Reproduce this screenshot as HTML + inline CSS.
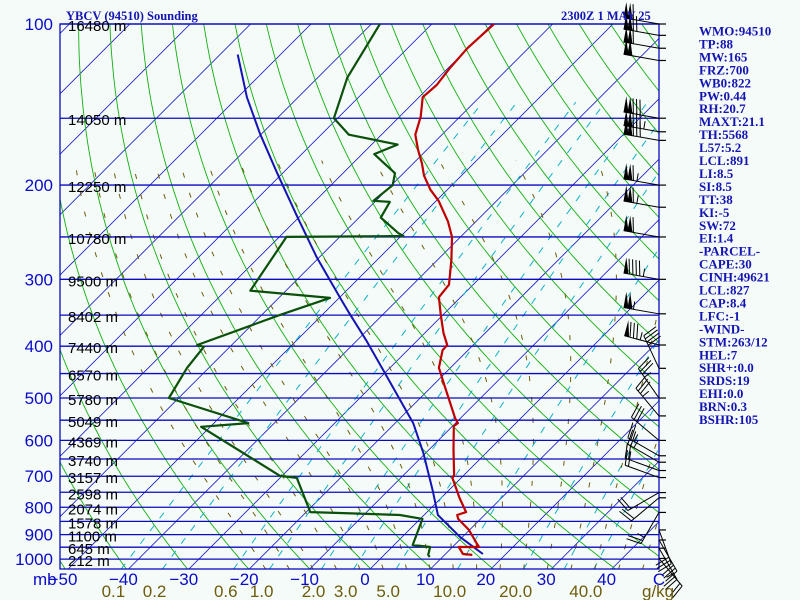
<!DOCTYPE html>
<html><head><meta charset="utf-8"><style>
html,body{margin:0;padding:0;background:#f5fbf8;}
svg{display:block;}
.pl{font-family:"Liberation Sans",sans-serif;font-size:17px;fill:#0a0ac8;}
.ml{font-family:"Liberation Sans",sans-serif;font-size:17px;fill:#6e5c0c;}
.hl{font-family:"Liberation Sans",sans-serif;font-size:15px;fill:#000;}
.tt{font-family:"Liberation Serif",serif;font-weight:bold;font-size:12.5px;fill:#1414b4;}
.st{font-family:"Liberation Serif",serif;font-weight:bold;font-size:13px;fill:#1414b4;}
</style></head><body>
<svg id="chart" width="800" height="600" viewBox="0 0 800 600" xmlns="http://www.w3.org/2000/svg">
<defs><clipPath id="plotclip"><rect x="60" y="24" width="599" height="545"/></clipPath></defs>
<rect x="0" y="0" width="800" height="600" fill="#f5fbf8"/>
<g id="bg" clip-path="url(#plotclip)"></g>
<g id="iso"></g>
<g id="prof" clip-path="url(#plotclip)"></g>
<g id="wind"></g>
<g id="labels"></g>
<text x="66" y="20" class="tt">YBCV (94510) Sounding</text>
<text x="561" y="20" class="tt">2300Z  1 MAY 25</text>
<g id="stats"></g>
</svg>
<script>
const NS="http://www.w3.org/2000/svg";
// ---- data ----
const tempP=[100,111,121,130,137,149,161,172,182,192,204,214,234,250,276,307,324,350,378,398,407,439,477,545,557,564,625,696,705,769,817,827,841,882,937,949,949,978,982];
const tempT=[-69.7,-70.1,-69.7,-69.1,-69.4,-66.5,-64.4,-61.4,-58.6,-56.2,-52.8,-49.6,-44.6,-41.4,-37.7,-34.0,-33.6,-30.3,-26.9,-24.3,-24.2,-21.9,-17.7,-10.9,-9.6,-9.8,-5.9,-1.65,-1.45,3.1,6.5,5.5,6.3,9.9,13.6,14.4,11.05,12.9,14.6];
const dewP=[100,126,150,161,168,175,190,200,214,215,230,246,249,250,315,325,350,398,401,439,500,557,566,699,705,817,820,827,841,941,949,982,991];
const dewT=[-88.6,-85.1,-80.6,-75.4,-65.7,-68.0,-61.4,-59.8,-60.4,-57.5,-56.4,-50.9,-49.6,-68.8,-65.9,-51.5,-57.0,-65.7,-64.3,-63.6,-61.6,-44.3,-51.5,-30.3,-27.2,-19.3,-14.3,-4.0,0.4,3.1,6.3,7.3,7.9];
const parcelP=[114,137,160,190,229,273,324,342,390,443,500,557,633,743,827,909,978];
const parcelT=[-107.1,-98.5,-90.4,-80.9,-70.4,-60.4,-50.0,-46.7,-38.5,-30.8,-23.5,-17.0,-10.4,-2.7,2.3,9.6,16.2];
const pressTicks=[100,200,300,400,500,600,700,800,900,1000];
const heightP=[100,150,200,250,300,350,400,450,500,550,600,650,700,750,800,850,900,950,1000];
const heightLbl=["16480 m","14050 m","12250 m","10780 m","9500 m","8402 m","7440 m","6570 m","5780 m","5049 m","4369 m","3740 m","3157 m","2598 m","2074 m","1578 m","1100 m","645 m","212 m"];
const tempTicks=[-50,-40,-30,-20,-10,0,10,20,30,40];
const mixLines=[0.1,0.2,0.6,1.0,2.0,3.0,5.0,10.0,20.0,30.0,40.0];
const mixTicks=[0.1,0.2,0.6,1.0,2.0,3.0,5.0,10.0,20.0,40.0];
const mixLbl=["0.1","0.2","0.6","1.0","2.0","3.0","5.0","10.0","20.0","40.0"];
const windP=[100,105,111,117,150,159,165,200,220,250,300,348,398,440,500,540,600,641,659,683,704,751,768,818,882,921,954,997];
const windDir=[280,280,280,280,280,280,280,280,280,280,280,280,285,335,325,320,310,300,300,290,290,240,230,210,160,150,150,140];
const windSpd=[110,120,110,100,130,135,130,115,115,110,95,105,85,40,35,35,30,25,25,20,20,20,20,25,30,30,25,20];
const stats=["WMO:94510","TP:88","MW:165","FRZ:700","WB0:822","PW:0.44","RH:20.7","MAXT:21.1","TH:5568","L57:5.2","LCL:891","LI:8.5","SI:8.5","TT:38","KI:-5","SW:72","EI:1.4","-PARCEL-","CAPE:30","CINH:49621","LCL:827","CAP:8.4","LFC:-1","-WIND-","STM:263/12","HEL:7","SHR+:0.0","SRDS:19","EHI:0.0","BRN:0.3","BSHR:105"];
// ---- axes ----
const X0=60,X1=659,Y0=24,Y1=569;
function yOf(p){return 24+232.4*Math.log(p/100);}
function xOf(T,p){return 370+6.04*T+(569-yOf(p));}
const pOfY=y=>100*Math.exp((y-24)/232.4);
function mk(tag,attrs,parent){const e=document.createElementNS(NS,tag);for(const k in attrs)e.setAttribute(k,attrs[k]);parent.appendChild(e);return e;}
const bg=document.getElementById('bg'),iso=document.getElementById('iso'),prof=document.getElementById('prof'),lab=document.getElementById('labels'),wind=document.getElementById('wind'),st=document.getElementById('stats');
function pathFrom(pts){return pts.map((q,i)=>(i?'L':'M')+q[0].toFixed(1)+' '+q[1].toFixed(1)).join(' ');}
const pLevels=[];for(let p=1045;p>=100;p-=5)pLevels.push(p);
for(let T=-160;T<=50;T+=10){
  const l=mk('line',{x1:xOf(T,1043),y1:Y1,x2:xOf(T,100),y2:Y0,stroke:'#1010c8','stroke-width':0.8},bg);
  
}
for(let th=200;th<=520;th+=10){
  const pts=pLevels.map(p=>[xOf(th*Math.pow(p/1000,0.2857)-273.15,p),yOf(p)]);
  const e=mk('path',{d:pathFrom(pts),fill:'none',stroke:'#10b010','stroke-width':0.9},bg);
  
}
function tdOf(w,p){const e=w*p/(622+w);const a=Math.log(e/6.112);return 243.5*a/(17.67-a);}
for(const w of mixLines){
  const pts=pLevels.filter(p=>p>=140).map(p=>[xOf(tdOf(w,p),p),yOf(p)]);
  const e=mk('path',{d:pathFrom(pts),fill:'none',stroke:'#10b0c8','stroke-width':1,'stroke-dasharray':'7,9'},bg);
  
}
function es(T){return 6.112*Math.exp(17.67*T/(T+243.5));}
for(let T0=-20;T0<=48;T0+=4){
  let Tb=T0+273.15,pb=1000;
  for(;pb<1045;pb+=5){const rs=0.622*es(Tb-273.15)/(pb-es(Tb-273.15));const g=(287*Tb+2.5e6*rs)/(1004+2.5e6*2.5e6*rs*0.622/(287*Tb*Tb))/pb;Tb+=g*5;}
  let T=Tb,p=1045;const pts=[];
  while(p>=180){pts.push([xOf(T-273.15,p),yOf(p)]);const e=es(T-273.15);const rs=0.622*e/Math.max(p-e,1);const g=(287*T+2.5e6*rs)/(1004+2.5e6*2.5e6*rs*0.622/(287*T*T))/p;T-=g*5;p-=5;}
  const e=mk('path',{d:pathFrom(pts),fill:'none',stroke:'#6e5c0c','stroke-width':1,'stroke-dasharray':'5,16'},bg);
  
}
heightP.forEach((p,i)=>{
  const l=mk('line',{x1:X0,y1:yOf(p),x2:X1,y2:yOf(p),stroke:'#0a0ac0','stroke-width':1.3},iso);
  
  const t=mk('text',{x:68,y:yOf(p)+7,class:'hl'},lab);t.textContent=heightLbl[i];
  
});
const fr=mk('rect',{x:X0,y:Y0,width:X1-X0,height:Y1-Y0,fill:'none',stroke:'#0a0ac0','stroke-width':1.3},iso);

pressTicks.forEach(p=>{const t=mk('text',{x:53,y:yOf(p)+6,class:'pl','text-anchor':'end'},lab);t.textContent=p;
  });
const mb=mk('text',{x:33,y:585,class:'pl'},lab);mb.textContent='mb';
tempTicks.forEach(T=>{const t=mk('text',{x:xOf(T,pOfY(Y1))-5,y:585,class:'pl','text-anchor':'middle'},lab);t.textContent=T<0?'\u2212'+(-T):T;
  });
const cu=mk('text',{x:659,y:585,class:'pl','text-anchor':'middle'},lab);cu.textContent='C';
mixTicks.forEach((w,i)=>{const t=mk('text',{x:xOf(tdOf(w,1043),1043)-8,y:597,class:'ml','text-anchor':'middle'},lab);t.textContent=mixLbl[i];
  });
const gk=mk('text',{x:642,y:597,class:'ml'},lab);gk.textContent='g/kg';
function line(P,T,color,w,name){const pts=P.map((p,i)=>[xOf(T[i],p),yOf(p)]);
  const e=mk('path',{d:pathFrom(pts),fill:'none',stroke:color,'stroke-width':w,'stroke-linejoin':'round'},prof);
  }
line(parcelP,parcelT,'#1414b4',2,'parcel-line');
line(dewP,dewT,'#0a500a',2.2,'dewpoint-line');
line(tempP,tempT,'#c00000',2.2,'temperature-line');
windP.forEach((p,i)=>{
  const y=yOf(p),bx=X1;
  const tk=mk('line',{x1:X1,y1:y,x2:X1+7,y2:y,stroke:'#000','stroke-width':1.2},wind);
  
  const d=windDir[i]*Math.PI/180,ux=Math.sin(d),uy=-Math.cos(d),px=-uy,py=ux;
  const g=mk('g',{},wind);
  const L=36;const ex=bx+ux*L,ey=y+uy*L;
  mk('line',{x1:bx,y1:y,x2:ex,y2:ey,stroke:'#000','stroke-width':1},g);
  let s=windSpd[i],pos=L;
  while(s>=50){const a=[bx+ux*pos,y+uy*pos],b=[bx+ux*(pos-5),y+uy*(pos-5)],c=[a[0]+px*16,a[1]+py*16];
    mk('polygon',{points:`${a[0]},${a[1]} ${b[0]},${b[1]} ${c[0]},${c[1]}`,fill:'#000'},g);pos-=4;s-=50;}
  if(pos<L)pos-=2;
  while(s>=10){const a=[bx+ux*pos,y+uy*pos];mk('line',{x1:a[0],y1:a[1],x2:a[0]+px*15+ux*3,y2:a[1]+py*15+uy*3,stroke:'#000','stroke-width':1},g);pos-=3.5;s-=10;}
  if(s>=5){const a=[bx+ux*pos,y+uy*pos];mk('line',{x1:a[0],y1:a[1],x2:a[0]+px*8,y2:a[1]+py*8,stroke:'#000','stroke-width':1},g);}
});
stats.forEach((s,i)=>{const t=mk('text',{x:699,y:35.5+i*12.95,class:'st'},st);t.textContent=s;
  });
</script>
</body></html>
